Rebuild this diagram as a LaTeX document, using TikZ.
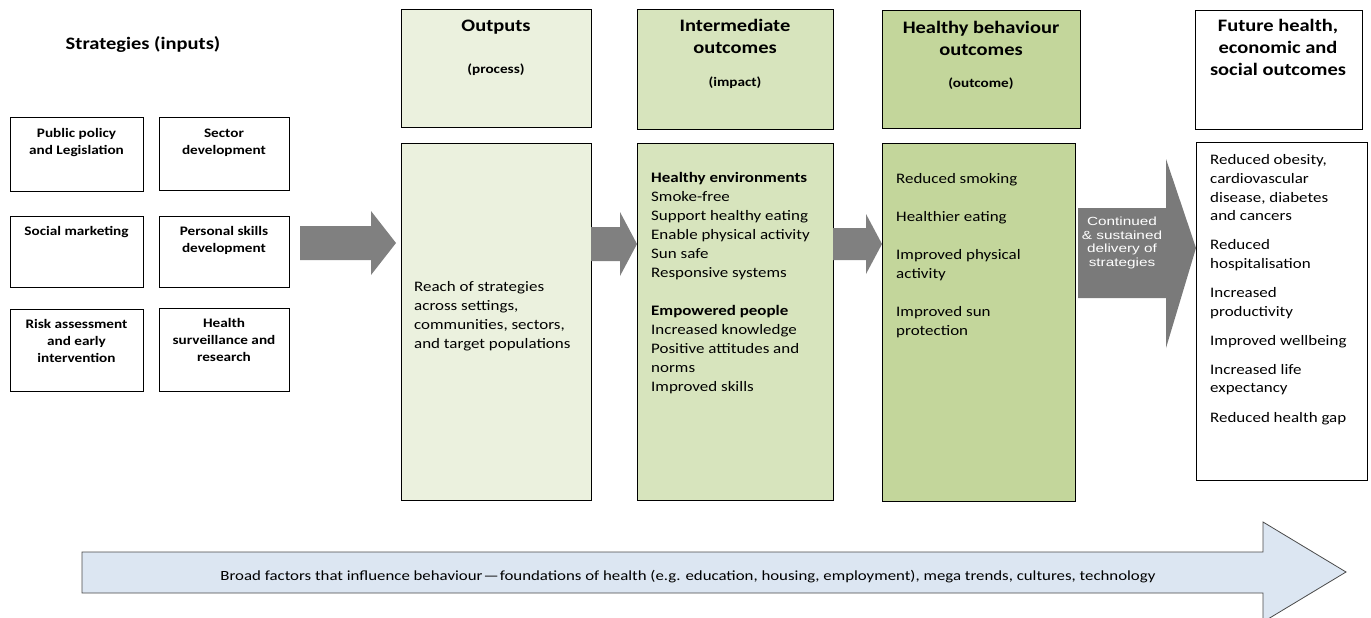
\documentclass[tikz,border=0pt]{standalone}
\usepackage{fontspec}
\usepackage{graphicx}
\setmainfont{Carlito}[FakeStretch=1.17]
\newfontfamily\arrowfont{Liberation Sans}[FakeStretch=1.3]
\definecolor{outfill}{HTML}{EBF1DE}
\definecolor{intfill}{HTML}{D7E4BD}
\definecolor{behfill}{HTML}{C3D69B}
\definecolor{arrowgray}{HTML}{808080}
\definecolor{contgray}{HTML}{7A7A7A}
\definecolor{broadfill}{HTML}{DCE6F2}
\definecolor{broadline}{HTML}{4A4A4A}
\newcommand\stratfont{\fontsize{13}{17}\selectfont\bfseries}
\newcommand\headfont{\fontsize{17.5}{22}\selectfont\bfseries}
\newcommand\subfont{\fontsize{13}{16}\selectfont\bfseries}
\newcommand\bodyfont{\fontsize{14.5}{19}\selectfont}
\begin{document}
% Multi-line labels are placed by the baseline of their last line.
\begin{tikzpicture}[x=1pt,y=-1pt,
  frame/.style={draw=black, line width=1pt, inner sep=0pt, anchor=north west},
  stratlabel/.style={anchor=base, align=center, inner sep=0pt, font=\stratfont},
  headlabel/.style={anchor=base, align=center, inner sep=0pt, font=\headfont},
  sublabel/.style={anchor=base, align=center, inner sep=0pt, font=\subfont},
  bodylabel/.style={anchor=base west, align=left, inner sep=0pt, font=\bodyfont},
  flowarrow/.style={fill=arrowgray, draw=none}]
\clip (0,0) rectangle (1371,618);
\fill[white] (0,0) rectangle (1371,618);

% Strategies column
\node[headlabel] (strat) at (143,50) {Strategies (inputs)};
\node[frame, minimum width=133pt, minimum height=74pt] (s1) at (10,117) {};
\node[frame, minimum width=130pt, minimum height=73pt] (s2) at (159,117) {};
\node[frame, minimum width=133pt, minimum height=71pt] (s3) at (10,216) {};
\node[frame, minimum width=130pt, minimum height=71pt] (s4) at (159,216) {};
\node[frame, minimum width=133pt, minimum height=82pt] (s5) at (10,309) {};
\node[frame, minimum width=130pt, minimum height=83pt] (s6) at (159,308) {};
\node[stratlabel] (t1) at (76.5,154) {Public policy\\and Legislation};
\node[stratlabel] (t2) at (224,154) {Sector\\development};
\node[stratlabel] (t3) at (76.5,235) {Social marketing};
\node[stratlabel] (t4) at (224,252) {Personal skills\\development};
\node[stratlabel] (t5) at (76.5,362) {Risk assessment\\and early\\intervention};
\node[stratlabel] (t6) at (224,361) {Health\\surveillance and\\research};

% Column headers
\node[frame, fill=outfill, minimum width=190pt, minimum height=118pt] (h1) at (401,9) {};
\node[frame, fill=intfill, minimum width=196pt, minimum height=120pt] (h2) at (637,9) {};
\node[frame, fill=behfill, minimum width=198pt, minimum height=118pt] (h3) at (882,10) {};
\node[frame, fill=white, minimum width=167pt, minimum height=119pt] (h4) at (1195,10) {};
\node[headlabel] (h1a) at (496,32) {Outputs};
\node[sublabel] (h1b) at (496,74) {(process)};
\node[headlabel] (h2a) at (735,54) {Intermediate\\outcomes};
\node[sublabel] (h2b) at (735,86) {(impact)};
\node[headlabel] (h3a) at (981,56) {Healthy behaviour\\outcomes};
\node[sublabel] (h3b) at (981,88) {(outcome)};
\node[headlabel] (h4a) at (1278,76) {Future health,\\economic and\\social outcomes};

% Column bodies
\node[frame, fill=outfill, minimum width=190pt, minimum height=357pt] (b1) at (401,143) {};
\node[frame, fill=intfill, minimum width=196pt, minimum height=357pt] (b2) at (637,143) {};
\node[frame, fill=behfill, minimum width=193pt, minimum height=358pt] (b3) at (882,143) {};
\node[frame, fill=white, minimum width=171pt, minimum height=338pt] (b4) at (1196,142) {};

\node[bodylabel] (b1t) at (414,348) {Reach of strategies\\across settings,\\communities, sectors,\\and target populations};
\node[bodylabel] (b2t) at (651,391) {\textbf{Healthy environments}\\Smoke-free\\Support healthy eating\\Enable physical activity\\Sun safe\\Responsive systems\\[19pt]\textbf{Empowered people}\\Increased knowledge\\Positive attitudes and\\norms\\Improved skills};
\node[bodylabel] (b3t) at (896,335) {Reduced smoking\\[19pt]Healthier eating\\[19pt]Improved physical\\activity\\[19pt]Improved sun\\protection};
\node[bodylabel, font=\fontsize{14.5}{18.6}\selectfont] (b4t) at (1210,422) {Reduced obesity,\\cardiovascular\\disease, diabetes\\and cancers\\[10.5pt]Reduced\\hospitalisation\\[10.5pt]Increased\\productivity\\[10.5pt]Improved wellbeing\\[10.5pt]Increased life\\expectancy\\[10.5pt]Reduced health gap};

% Block arrows between the columns
\fill[flowarrow] (300,226) -- (371,226) -- (371,211) -- (396,243) -- (371,275) -- (371,260) -- (300,260) -- cycle;
\fill[flowarrow] (591,227) -- (620,227) -- (620,212) -- (637,244) -- (620,276) -- (620,261) -- (591,261) -- cycle;
\fill[flowarrow] (833,228) -- (866,228) -- (866,214) -- (882,244) -- (866,274) -- (866,260) -- (833,260) -- cycle;
\fill[contgray] (1078,208) -- (1166,208) -- (1166,159) -- (1196,248) -- (1166,348) -- (1166,298) -- (1078,298) -- cycle;
\node[anchor=base, align=center, inner sep=0pt, text=white,
  font=\arrowfont\fontsize{11.8}{13.4}\selectfont] (cont) at (1122,266) {Continued\\\& sustained\\delivery of\\strategies};

% Broad factors arrow along the bottom
\filldraw[fill=broadfill, draw=broadline, line width=0.8pt]
  (82,552) -- (1263,552) -- (1263,522) -- (1346,572) -- (1263,622) -- (1263,593) -- (82,593) -- cycle;
\node[inner sep=0pt] (broad) at (688,577) {\resizebox{935pt}{\height}{\fontsize{14}{15}\selectfont Broad factors that influence behaviour\kern1pt—\kern1pt foundations of health (e.g. education, housing, employment), mega trends, cultures, technology}};
\end{tikzpicture}
\end{document}
